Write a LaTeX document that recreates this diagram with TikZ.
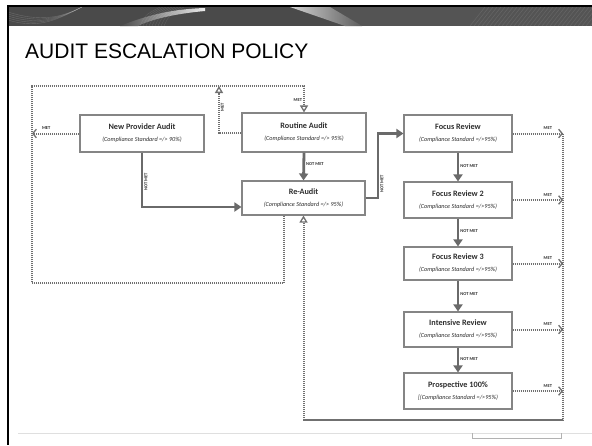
\documentclass[tikz,border=0pt]{standalone}
\usepackage{fontspec}
\setmainfont{Carlito}
\newfontfamily\titlefont{Liberation Sans}
\usetikzlibrary{arrows.meta,calc,positioning,shadings}

\definecolor{boxline}{HTML}{858585}
\definecolor{solidgray}{HTML}{6A6A6A}
\definecolor{dotgray}{HTML}{707070}
\definecolor{banner}{HTML}{4A4A4A}
\definecolor{inktext}{HTML}{2E2E2E}

\newcommand{\auditbox}[2]{{\bfseries\fontsize{8.2}{12}\selectfont #1}\\{\itshape\fontsize{6.2}{12}\selectfont #2}}

\begin{document}
\begin{tikzpicture}[x=1pt,y=-1pt,
                    box/.style={draw=boxline,line width=1.1pt,fill=white,text=inktext,
                                inner sep=0pt,align=center,font=\fontsize{7}{12}\selectfont},
                    notmet/.style={draw=solidgray,line width=2.8pt,-{Triangle[length=7pt,width=9pt]}},
                    met/.style={draw=dotgray,line width=2pt,dash pattern=on 1.1pt off 0.9pt},
                    metbarb/.style={met,-{Straight Barb[length=3.5pt,width=8.5pt,line width=1.3pt]}},
                    metopen/.style={met,-{Triangle[open,length=7pt,width=8pt,line width=1.3pt]}},
                    outcome/.style={font=\bfseries\fontsize{4.5}{5}\selectfont,text=inktext,inner sep=1pt}]
    \useasboundingbox (0,0) rectangle (592,445);
    \fill[white] (0,0) rectangle (592,445);

    % slide banner and frame
    \fill[banner] (8,7) rectangle (592,26);
    \begin{scope}
        \clip (8,7) rectangle (592,26);
        \foreach \d in {0,2,...,8}
            \draw[white,opacity=0.18,line width=0.4pt] (8,12+\d) .. controls (40,22+\d) and (60,18) .. (82,7);
        \shade[left color=banner,right color=gray!15] (120,26) .. controls (150,14) and (175,9) .. (205,8)
            -- (205,11) .. controls (172,14) and (150,20) .. (138,26) -- cycle;
        \foreach \d in {0,3,...,24}
            \draw[white,opacity=0.12,line width=0.4pt] (140+\d,26) .. controls (145+\d,15) .. (160+\d,7);
        \shade[left color=gray!35,right color=banner!90!white] (290,7) -- (330,7) -- (362,26) -- (345,26) -- cycle;
        \fill[white,opacity=0.06] (330,7) -- (592,7) -- (592,26) -- (362,26) -- cycle;
        \foreach \d in {0,4,...,120}
            \draw[white,opacity=0.1,line width=0.5pt] (470+\d,26) -- (485+\d,7);
    \end{scope}
    \draw[line width=2pt] (7,6) -- (592,6);
    \draw[line width=2.5pt] (8,5) -- (8,445);
    \draw[gray!25,line width=0.8pt] (18,433) -- (592,433);
    \draw[gray!60,line width=0.6pt] (472,433) -- (472,438) -- (561,438) -- (561,433);

    \node[anchor=base west,inner sep=0pt,font=\titlefont\fontsize{21}{25}\selectfont] (title) at (25,58) {AUDIT ESCALATION POLICY};

    % audit boxes
    \node at (142,133.5) (npa)         [box,minimum width=124pt,minimum height=37pt] {\auditbox{New Provider Audit}{(Compliance Standard =/> 90\%)}};
    \node at (304,132.5) (routine)     [box,minimum width=124pt,minimum height=39pt] {\auditbox{Routine Audit}{(Compliance Standard =/> 95\%)}};
    \node at (303.5,198) (reaudit)     [box,minimum width=123pt,minimum height=34pt] {\auditbox{Re-Audit}{(Compliance Standard =/> 95\%)}};
    \node at (458,133.5) (focus1)      [box,minimum width=108pt,minimum height=37pt] {\auditbox{Focus Review}{(Compliance Standard =/>95\%)}};
    \node at (458,200)   (focus2)      [box,minimum width=108pt,minimum height=36pt] {\auditbox{Focus Review 2}{(Compliance Standard =/>95\%)}};
    \node at (458,263.5) (focus3)      [box,minimum width=108pt,minimum height=33pt] {\auditbox{Focus Review 3}{(Compliance Standard =/>95\%)}};
    \node at (458,329.5) (intensive)   [box,minimum width=108pt,minimum height=35pt] {\auditbox{Intensive Review}{(Compliance Standard =/>95\%)}};
    \node at (458,391)   (prospective) [box,minimum width=108pt,minimum height=36pt] {\auditbox{Prospective 100\%}{[(Compliance Standard =/>95\%)}};

    \coordinate (looptl)  at (32,86);
    \coordinate (loopbl)  at (32,283);
    \coordinate (upturn)  at (219,86);
    \coordinate (railend) at (563,420);

    % not met paths
    \draw[notmet] (npa.south) |- node[outcome,pos=0.27,rotate=90,anchor=north] {NOT MET} ([yshift=-9pt]reaudit.west);
    \draw[notmet] (routine.south) -- node[outcome,right,pos=0.4] {NOT MET} (reaudit.north);
    \draw[notmet] (reaudit.east) -- ++(12.5,0) |- node[outcome,pos=0.1,rotate=90,anchor=north,xshift=1pt] {NOT MET} (focus1.west);
    \foreach \a/\b in {focus1/focus2,focus2/focus3,focus3/intensive,intensive/prospective}
        \draw[notmet] (\a.south) -- node[outcome,right,pos=0.45] {NOT MET} (\b.north);

    % met paths
    \draw[metbarb] (npa.west) -- node[outcome,pos=0.7,above=2pt] {MET} (npa.west -| looptl);
    \draw[metopen] (routine.west) -| node[outcome,pos=0.75,rotate=90,anchor=north,xshift=2pt] {MET} (upturn);
    \draw[metopen] ([xshift=-19.5pt]reaudit.south) |- (loopbl) -- (looptl) -| node[outcome,pos=0.77,left] {MET} (routine.north);
    \foreach \n in {focus1,focus2,focus3,intensive,prospective}
        \draw[metbarb] (\n.east) -- node[outcome,pos=0.7,above=2pt] {MET} (\n.east -| railend);
    \draw[metopen] (focus1.east -| railend) -- (railend) -| (reaudit.south);
\end{tikzpicture}
\end{document}
